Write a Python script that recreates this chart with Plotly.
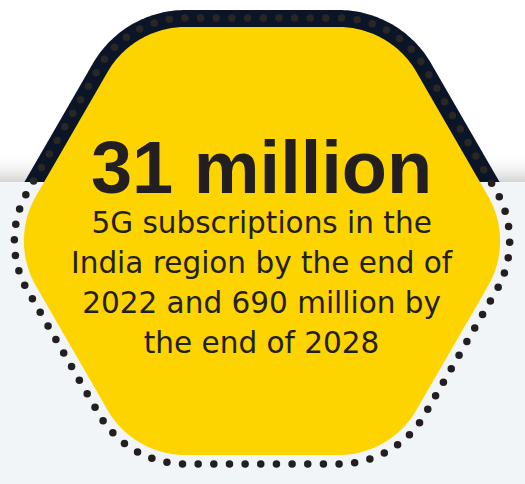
import math
import numpy as np
import plotly.graph_objects as go

# ---- content ----
headline = "31 million"
body_lines = [
    "5G subscriptions in the",
    "India region by the end of",
    "2022 and 690 million by",
    "the end of 2028",
]

W, H = 525, 484
YELLOW = "#FDD300"
NAVY = "#0B1528"
INK = "#231F20"
DOT_ON_NAVY = "#2A2624"
GRAY_BG = "#F2F5F7"
SPLIT_Y = 182

CX, CY = 262.0, 241.0
T30 = math.tan(math.radians(30))
C30 = math.cos(math.radians(30))


def hexagon(top, bottom, lx, rx):
    half = (bottom - top) / 2.0
    cy = (top + bottom) / 2.0
    return [
        (lx + half * T30, top),
        (rx - half * T30, top),
        (rx, cy),
        (rx - half * T30, bottom),
        (lx + half * T30, bottom),
        (lx, cy),
    ]


def rounded(poly, r, n_arc=40):
    pts = []
    n = len(poly)
    for i in range(n):
        p0 = np.array(poly[i - 1], float)
        p1 = np.array(poly[i], float)
        p2 = np.array(poly[(i + 1) % n], float)
        a = (p0 - p1) / np.linalg.norm(p0 - p1)
        b = (p2 - p1) / np.linalg.norm(p2 - p1)
        theta = math.acos(np.clip(np.dot(a, b), -1, 1))
        t = r / math.tan(theta / 2)
        s = p1 + a * t
        e = p1 + b * t
        bis = (a + b) / np.linalg.norm(a + b)
        c = p1 + bis * (r / math.sin(theta / 2))
        a0 = math.atan2(s[1] - c[1], s[0] - c[0])
        a1 = math.atan2(e[1] - c[1], e[0] - c[0])
        d = a1 - a0
        while d > math.pi:
            d -= 2 * math.pi
        while d < -math.pi:
            d += 2 * math.pi
        for k in range(n_arc + 1):
            ang = a0 + d * k / n_arc
            pts.append((c[0] + r * math.cos(ang), c[1] + r * math.sin(ang)))
    return pts


def clip_above(pts, ylim):
    out = []
    n = len(pts)
    for i in range(n):
        p, q = pts[i], pts[(i + 1) % n]
        pin, qin = p[1] <= ylim, q[1] <= ylim
        if pin:
            out.append(p)
        if pin != qin:
            t = (ylim - p[1]) / (q[1] - p[1])
            out.append((p[0] + t * (q[0] - p[0]), ylim))
    return out


def path_str(pts):
    return "M " + " L ".join(f"{x:.2f},{y:.2f}" for x, y in pts) + " Z"


def resample(pts, spacing, start_xy):
    arr = np.array(pts)
    idx = int(np.argmin(np.hypot(arr[:, 0] - start_xy[0], arr[:, 1] - start_xy[1])))
    base = pts[idx:] + pts[:idx]
    arr = np.array(base + [base[0]])
    seg = np.hypot(np.diff(arr[:, 0]), np.diff(arr[:, 1]))
    cum = np.concatenate([[0], np.cumsum(seg)])
    total = cum[-1]
    n = int(round(total / spacing))
    ss = np.arange(n) * total / n
    xs = np.interp(ss, cum, arr[:, 0])
    ys = np.interp(ss, cum, arr[:, 1])
    return xs, ys


yellow_pts = rounded(hexagon(27, 455, 10, 2 * CX - 10), 90)
navy_pts = rounded(hexagon(10, 472, 10 - 17 / C30, 2 * CX - 10 + 17 / C30), 107)
dot_pts = rounded(hexagon(18, 464, 10 - 9.5 / C30, 2 * CX - 10 + 9.5 / C30), 99, 200)
navy_clip = clip_above(navy_pts, SPLIT_Y)

fig = go.Figure()
shapes = []

grad_top, grad_bot = 150, SPLIT_Y
nsteps = 32
for k in range(nsteps):
    y0 = grad_top + (grad_bot - grad_top) * k / nsteps
    y1 = grad_top + (grad_bot - grad_top) * (k + 1) / nsteps
    f = ((k + 0.5) / nsteps) ** 2.2
    v = int(round(255 - f * (255 - 212)))
    shapes.append(dict(type="rect", xref="x", yref="y", x0=0, x1=W, y0=y0, y1=y1,
                       fillcolor=f"rgb({v},{v},{v})", line=dict(width=0), layer="below"))
shapes.append(dict(type="rect", xref="x", yref="y", x0=0, x1=W, y0=SPLIT_Y, y1=H,
                   fillcolor=GRAY_BG, line=dict(width=0), layer="below"))
shapes.append(dict(type="path", xref="x", yref="y", path=path_str(navy_clip),
                   fillcolor=NAVY, line=dict(width=0), layer="below"))
shapes.append(dict(type="path", xref="x", yref="y", path=path_str(yellow_pts),
                   fillcolor=YELLOW, line=dict(width=0), layer="below"))

xs, ys = resample(dot_pts, 15.6, (CX - 2, 18))
cols = [DOT_ON_NAVY if y < SPLIT_Y else INK for y in ys]
fig.add_trace(go.Scatter(x=xs, y=ys, mode="markers",
                         marker=dict(size=7.5, color=cols, line=dict(width=0)),
                         hoverinfo="skip", showlegend=False))

head_html = (f"<span style=\"font-size:74px;font-family:Liberation Sans\"><b>{headline}</b></span>")
body_html = "<br>".join(f"<span style=\"font-size:29.5px\">{t}</span>" for t in body_lines)
annotations = [dict(x=CX, y=362, xref="x", yref="y", text=head_html + "<br>" + body_html,
                    showarrow=False, xanchor="center", yanchor="bottom", align="center",
                    font=dict(family="DejaVu Sans", size=30.77, color=INK))]

fig.update_layout(
    width=W, height=H, margin=dict(l=0, r=0, t=0, b=0),
    paper_bgcolor="white", plot_bgcolor="white",
    xaxis=dict(range=[0, W], visible=False, fixedrange=True),
    yaxis=dict(range=[H, 0], visible=False, fixedrange=True),
    shapes=shapes, annotations=annotations, showlegend=False,
)
fig.write_html("out.html", config={"displayModeBar": False},
               post_script="document.body.style.margin='0';document.body.style.overflow='hidden';")
